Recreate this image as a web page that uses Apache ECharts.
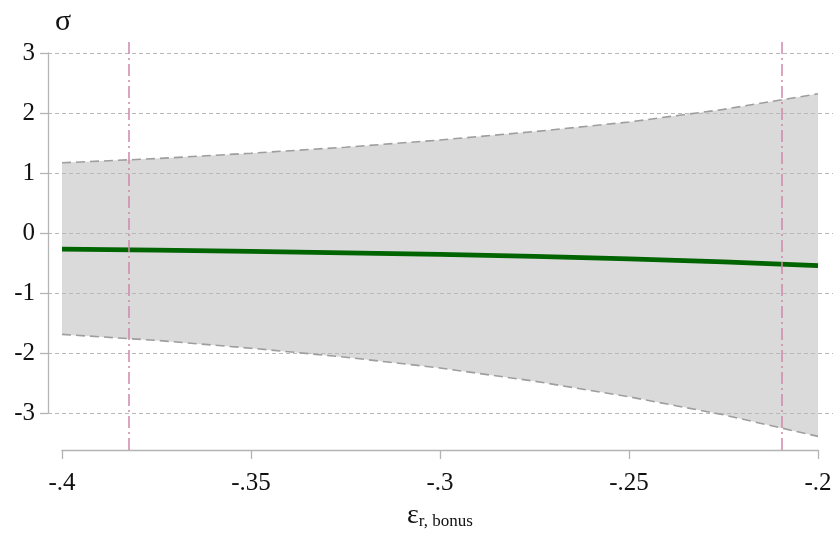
<!DOCTYPE html>
<html>
<head>
<meta charset="utf-8">
<script src="https://cdn.jsdelivr.net/npm/echarts@6/dist/echarts.min.js"></script>
<style>html,body{margin:0;padding:0;background:#fff}#c{width:837px;height:534px}</style>
</head>
<body>
<div id="c"></div>
<script>
// Data
const xValues  = [-0.4, -0.375, -0.35, -0.325, -0.3, -0.275, -0.25, -0.225, -0.2];
const estimate = [-0.27, -0.285, -0.305, -0.33, -0.355, -0.39, -0.43, -0.48, -0.545];
const upperCI  = [1.17, 1.24, 1.33, 1.43, 1.55, 1.69, 1.85, 2.06, 2.32];
const lowerCI  = [-1.69, -1.79, -1.92, -2.07, -2.25, -2.47, -2.73, -3.03, -3.39];
const vLines   = [-0.3823, -0.2096];
const yTicks   = [-3, 3, 1];       // min, max, interval
const xTicks   = [-0.4, -0.2, 0.05];

const FONT = "'Liberation Serif', 'DejaVu Serif', serif";
const AX = '#b4b4b4';

const pair = (ys) => xValues.map((x, i) => [x, ys[i]]);

const chart = echarts.init(document.getElementById('c'), null, {renderer: 'canvas'});
chart.setOption({
  animation: false,
  backgroundColor: '#fff',
  title: {
    text: 'σ', left: 50, top: 2,
    textStyle: {fontFamily: FONT, fontSize: 30, fontWeight: 'normal', color: '#111'}
  },
  grid: [
    {left: 48, right: 4, top: 53, bottom: 121, outerBoundsMode: 'none', containLabel: false},
    {left: 62, right: 19, top: 42, bottom: 84, outerBoundsMode: 'none', containLabel: false}
  ],
  xAxis: [
    {gridIndex: 0, type: 'value', min: 0, max: 1, show: false},
    {
      gridIndex: 1, type: 'value', min: xTicks[0], max: xTicks[1], interval: xTicks[2], z: 2,
      axisLine: {show: true, onZero: false, lineStyle: {color: AX, width: 1.3}},
      axisTick: {show: true, length: 9, lineStyle: {color: AX, width: 1.3}},
      splitLine: {show: false},
      axisLabel: {
        fontFamily: FONT, fontSize: 25, color: '#111', margin: 21,
        formatter: v => (+(+v).toFixed(2)).toString().replace('0.', '.')
      },
      name: '{e|ε}{s|r, bonus}',
      nameLocation: 'middle', nameGap: 52,
      nameTextStyle: {
        rich: {
          e: {fontFamily: FONT, fontSize: 28, color: '#111', verticalAlign: 'bottom'},
          s: {fontFamily: FONT, fontSize: 17, color: '#111', verticalAlign: 'bottom'}
        }
      }
    }
  ],
  yAxis: [
    {
      gridIndex: 0, type: 'value', min: yTicks[0], max: yTicks[1], interval: yTicks[2], z: 2,
      axisLine: {show: true, lineStyle: {color: AX, width: 1.3}},
      axisTick: {show: true, length: 8, lineStyle: {color: AX, width: 1.3}},
      axisLabel: {fontFamily: FONT, fontSize: 25, color: '#111', margin: 13},
      splitLine: {show: true, lineStyle: {color: '#b8b8b8', width: 1, type: [4, 3]}}
    },
    {gridIndex: 1, type: 'value', min: -3.6167, max: 3.1833, show: false}
  ],
  series: [
    {
      type: 'custom', xAxisIndex: 1, yAxisIndex: 1, z: 1, silent: true,
      data: [0],
      renderItem: function (params, api) {
        const pts = [];
        for (let i = 0; i < xValues.length; i++) pts.push(api.coord([xValues[i], upperCI[i]]));
        for (let i = xValues.length - 1; i >= 0; i--) pts.push(api.coord([xValues[i], lowerCI[i]]));
        return {type: 'polygon', shape: {points: pts}, style: {fill: '#dadada'}};
      }
    },
    {
      type: 'line', xAxisIndex: 1, yAxisIndex: 1, z: 3,
      data: pair(upperCI), symbol: 'none',
      lineStyle: {color: '#9e9e9e', width: 1.6, type: [9, 5]}
    },
    {
      type: 'line', xAxisIndex: 1, yAxisIndex: 1, z: 3,
      data: pair(lowerCI), symbol: 'none',
      lineStyle: {color: '#9e9e9e', width: 1.6, type: [9, 5]}
    },
    {
      type: 'line', xAxisIndex: 1, yAxisIndex: 1, z: 4,
      data: pair(estimate), symbol: 'none',
      lineStyle: {color: '#006400', width: 4.8},
      markLine: {
        silent: true, symbol: 'none', label: {show: false}, precision: 5,
        lineStyle: {color: '#cf88aa', width: 1.5, type: [12, 4, 2, 4]},
        data: vLines.map(v => ({xAxis: v}))
      }
    }
  ]
});
</script>
</body>
</html>
